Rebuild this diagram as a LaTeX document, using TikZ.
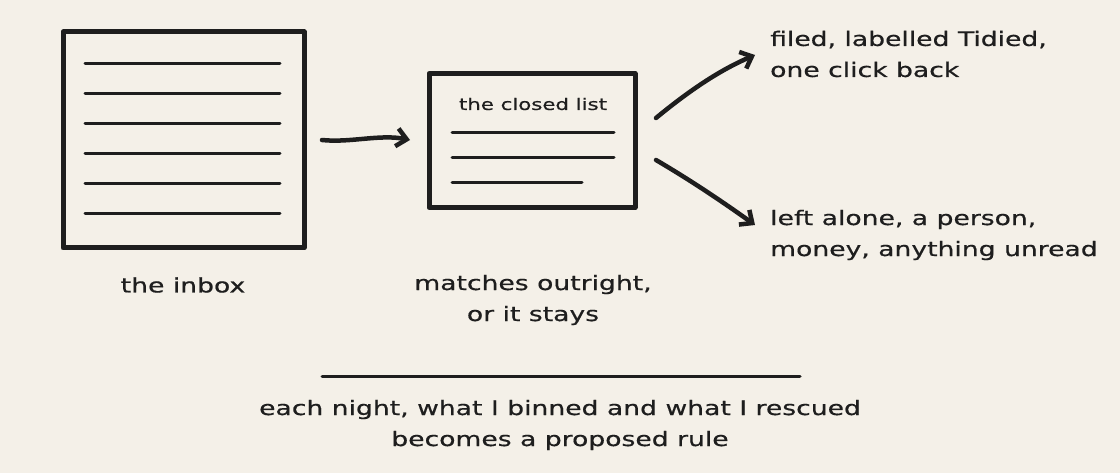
\documentclass[tikz,border=0pt]{standalone}
\usepackage{fontspec}
\setmainfont{DejaVu Sans}[FakeStretch=1.33,FakeBold=0.6]
\usetikzlibrary{arrows.meta}
\definecolor{bg}{HTML}{F4F0E8}
\definecolor{ink}{HTML}{1E1E1E}
\begin{document}
\begin{tikzpicture}[x=1pt,y=-1pt,
  box/.style={draw=ink,line width=5pt,line join=round},
  rule/.style={draw=ink,line width=3pt,line cap=round},
  arr/.style={draw=ink,line width=4.5pt,line cap=round,-{Straight Barb[length=10pt,width=18pt,line width=4.5pt]}},
  lbl/.style={text=ink,font=\fontsize{20}{31}\selectfont,align=center,inner sep=0pt},
  lbll/.style={lbl,align=left,anchor=west}]
\fill[bg] (0,0) rectangle (1120,473);
\useasboundingbox (0,0) rectangle (1120,473);
\node[box,minimum width=241pt,minimum height=216pt,inner sep=0pt] (inbox) at (183.5,140) {};
\foreach \y in {64,94,124,154,184,214} \draw[rule] (85,\y) -- (280,\y);
\node[box,minimum width=206pt,minimum height=134pt,inner sep=0pt] (closed) at (532,140.5) {};
\node[lbl,font=\fontsize{16}{20}\selectfont] (ct) at (533,104) {the closed list};
\draw[rule] (452,133) -- (614,133);
\draw[rule] (452,158) -- (614,158);
\draw[rule] (452,183) -- (582,183);
\coordinate (a1) at (322,140);
\coordinate (a2) at (410,140);
\draw[arr] (a1) .. controls (350,143) and (380,134) .. (a2);
\node[lbll] (t1) at (770,54) {filed, labelled Tidied,\\one click back};
\node[lbll] (t2) at (770,235) {left alone, a person,\\money, anything unread};
\coordinate (b1) at (656,118);
\coordinate (b2) at (656,160);
\draw[arr] (b1) .. controls (690,90) and (720,70) .. (755,55);
\draw[arr] (b2) .. controls (690,180) and (720,200) .. (755,225);
\node[lbl] (l1) at (183,285) {the inbox};
\node[lbl] (l2) at (533,300) {matches outright,\\or it stays};
\coordinate (r1) at (322,376);
\coordinate (r2) at (800,376);
\draw[rule,line width=3pt] (r1) -- (r2);
\node[lbl] (l3) at (560,425) {each night, what I binned and what I rescued\\becomes a proposed rule};
\end{tikzpicture}
\end{document}
